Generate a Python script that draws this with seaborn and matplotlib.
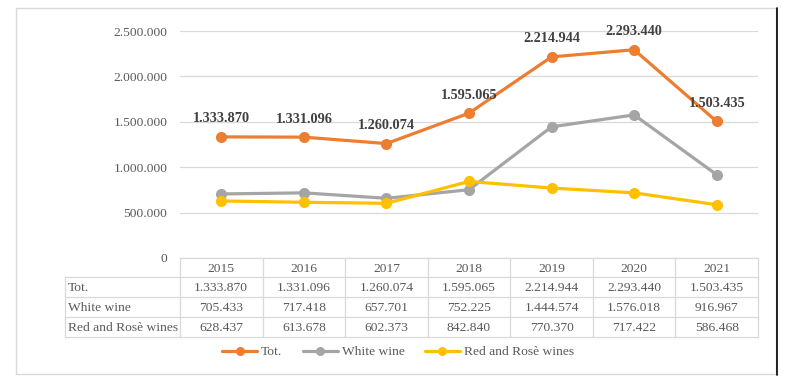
import matplotlib
matplotlib.use("Agg")
import matplotlib.pyplot as plt
from matplotlib.lines import Line2D
from matplotlib.ticker import FuncFormatter
import seaborn as sns
import pandas as pd

years = ["2015", "2016", "2017", "2018", "2019", "2020", "2021"]
series_names = ["Tot.", "White wine", "Red and Rosè wines"]
tot = [1333870, 1331096, 1260074, 1595065, 2214944, 2293440, 1503435]
white = [705433, 717418, 657701, 752225, 1444574, 1576018, 916967]
red = [628437, 613678, 602373, 842840, 770370, 717422, 586468]
colors = ["#ED7D31", "#A5A5A5", "#FFC000"]
yticks = [0, 500000, 1000000, 1500000, 2000000, 2500000]

def fmt(v):
    return f"{int(v):,}".replace(",", ".")

sns.set_style("white")
plt.rcParams["font.family"] = ["Liberation Serif", "DejaVu Serif"]

rows = []
for name, vals in zip(series_names, [tot, white, red]):
    for i, v in enumerate(vals):
        rows.append({"idx": i, "value": v, "series": name})
df = pd.DataFrame(rows)

W, H = 790, 390
fig = plt.figure(figsize=(W / 100, H / 100), dpi=100)

# background/overlay axes in pixel coordinates
bg = fig.add_axes([0, 0, 1, 1])
bg.set_xlim(0, W)
bg.set_ylim(H, 0)
bg.axis("off")

left, right, top, bottom = 180, 758, 31, 258
ax = fig.add_axes([left / W, 1 - bottom / H, (right - left) / W, (bottom - top) / H])
ax.set_facecolor("none")

sns.lineplot(data=df, x="idx", y="value", hue="series", hue_order=series_names,
             palette=colors, marker="o", markersize=8, markeredgewidth=0,
             linewidth=2.3, legend=False, ax=ax)

ax.set_xlim(-0.5, len(years) - 0.5)
ax.set_ylim(0, 2500000)
ax.set_yticks(yticks)
ax.yaxis.set_major_formatter(FuncFormatter(lambda v, p: fmt(v)))
ax.set_xticks([])
ax.set_xlabel("")
ax.set_ylabel("")
ax.grid(axis="y", color="#D9D9D9", linewidth=0.9)
ax.set_axisbelow(True)
for s in ax.spines.values():
    s.set_visible(False)
ax.tick_params(axis="y", length=0, pad=9, labelsize=9.7, labelcolor="#595959")

for i, v in enumerate(tot):
    ax.annotate(fmt(v), (i, v), xytext=(0, 13), textcoords="offset points",
                ha="center", va="center", fontsize=10.3, fontweight="bold", color="#404040")

# outer border
bg.plot([16, 776, 776, 16, 16], [8, 8, 374, 374, 8], color="#D9D9D9", linewidth=1)
bg.plot([777, 777], [8, 375], color="black", linewidth=1.2)

# data table
gc = "#D9D9D9"
col_w = (right - left) / len(years)
row_y = [258, 277, 297, 317, 337]
lab_x = 65
bg.plot([left, right], [row_y[0], row_y[0]], color=gc, linewidth=0.9)
for y in row_y[1:]:
    bg.plot([lab_x, right], [y, y], color=gc, linewidth=0.9)
bg.plot([lab_x, lab_x], [row_y[1], row_y[-1]], color=gc, linewidth=0.9)
for j in range(len(years) + 1):
    x = left + j * col_w
    bg.plot([x, x], [row_y[0], row_y[-1]], color=gc, linewidth=0.9)

tc = "#595959"
for j, yr in enumerate(years):
    bg.text(left + (j + 0.5) * col_w, (row_y[0] + row_y[1]) / 2 + 1, yr,
            ha="center", va="center", fontsize=9.7, color=tc)
for r, (name, vals) in enumerate(zip(series_names, [tot, white, red])):
    yc = (row_y[r + 1] + row_y[r + 2]) / 2 + 1
    bg.text(lab_x + 3, yc, name, ha="left", va="center", fontsize=9.7, color=tc)
    for j, v in enumerate(vals):
        bg.text(left + (j + 0.5) * col_w, yc, fmt(v), ha="center", va="center",
                fontsize=9.7, color=tc)

# legend
handles = [Line2D([0], [0], color=c, linewidth=2.3, marker="o", markersize=6.5,
                  markeredgewidth=0) for c in colors]
fig.legend(handles, series_names, loc="center", bbox_to_anchor=(398 / W, 1 - 352 / H),
           ncol=3, frameon=False, fontsize=9.7, handlelength=2.6, handletextpad=0.3,
           columnspacing=1.5, labelcolor=tc)

fig.savefig("out.png", dpi=100)
